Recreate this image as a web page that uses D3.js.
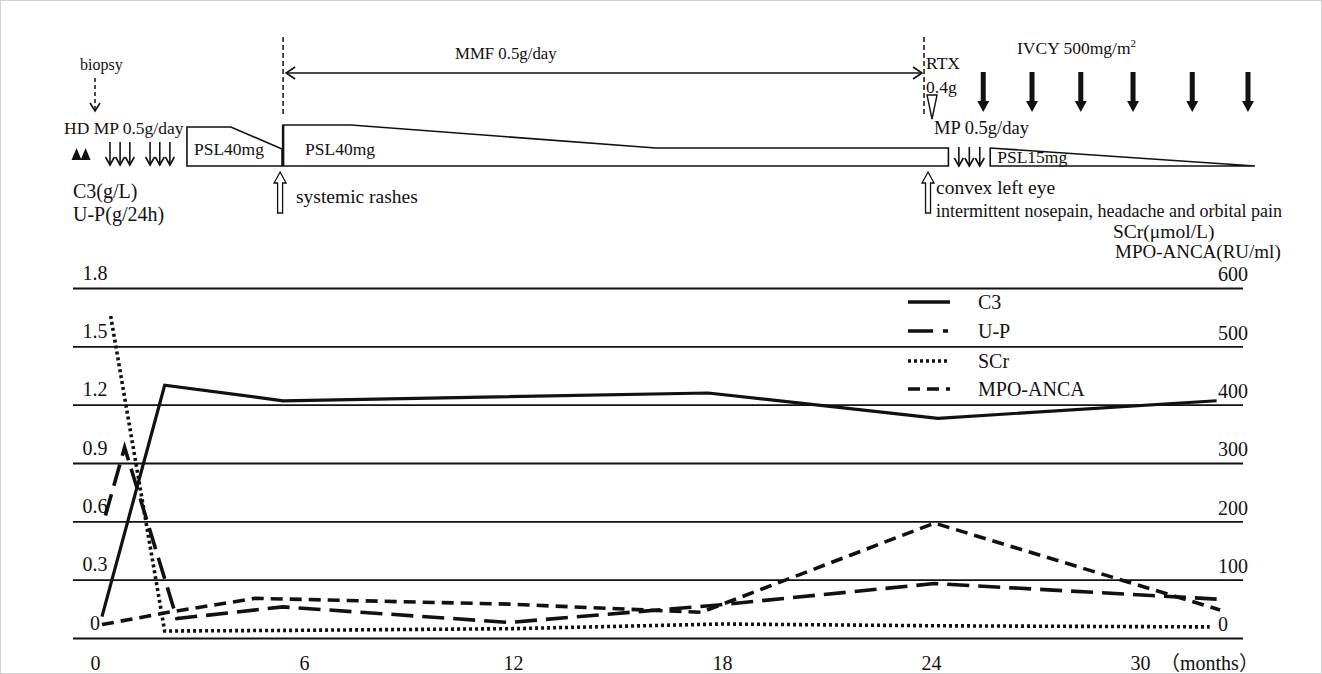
<!DOCTYPE html>
<html>
<head>
<meta charset="utf-8">
<script src="https://cdn.jsdelivr.net/npm/d3@7"></script>
<style>
  body { margin: 0; background: #fff; }
  svg text { font-family: "Liberation Serif", "Times New Roman", serif; font-size: 20px; fill: #111; }
  svg text.tl { font-size: 17.5px; }
</style>
</head>
<body>
<div id="grafiek"></div>
<script>
// Waarden (maanden / waarden)
const c3Months = [0.2, 2.0, 5.4, 17.6, 24.2, 32.2];
const c3Values = [0.11, 1.30, 1.22, 1.26, 1.13, 1.22];

const upMonths = [0.3, 0.85, 2.35, 5.4, 11.9, 17.9, 24.1, 32.2];
const upValues = [0.63, 0.98, 0.10, 0.16, 0.08, 0.17, 0.28, 0.20];

const scrMonths = [0.45, 2.0, 5.4, 12, 18, 24, 32.0];
const scrValues = [552, 12, 13, 16, 24, 21, 19];

const mpoMonths = [0.2, 2.1, 4.6, 11.9, 17.4, 24.1, 32.3];
const mpoValues = [23, 44, 68, 58, 44, 197, 48];

const leftTicks = [0, 0.3, 0.6, 0.9, 1.2, 1.5, 1.8];
const rightTicks = [0, 100, 200, 300, 400, 500, 600];
const monthTicks = [0, 6, 12, 18, 24, 30];

const legendNames = ["C3", "U-P", "SCr", "MPO-ANCA"];

// behandel-tijdlijn (maanden)
const hdMonths = [-0.53, -0.27];
const mpMonths = [0.43, 0.72, 1.0, 1.58, 1.86, 2.15];
const mp2Months = [24.8, 25.1, 25.4];
const ivcyMonths = [25.5, 26.9, 28.3, 29.8, 31.5, 33.1];
const rashMonth = 5.4;
const rtxMonth = 23.8;

const width = 1322, height = 674;

const svg = d3.select('#grafiek')
  .append('svg')
  .attr('width', width)
  .attr('height', height);

svg.append('rect')
  .attr('x', 0.5).attr('y', 0.5)
  .attr('width', width - 1).attr('height', height - 1)
  .attr('fill', 'none').attr('stroke', '#d0d0d0');

const x = d3.scaleLinear().domain([0, 30]).range([95, 1140]);
const yL = d3.scaleLinear().domain([0, 1.8]).range([638, 288]);
const yR = d3.scaleLinear().domain([0, 600]).range([638, 288]);

const gridLeft = 73, gridRight = 1243;

// Y as links met rasterlijnen
const leftAxis = svg.append('g')
  .attr('transform', `translate(${gridLeft},0)`)
  .call(d3.axisLeft(yL).tickValues(leftTicks)
    .tickSize(-(gridRight - gridLeft))
    .tickFormat(d => d3.format('')(d)));
leftAxis.select('.domain').remove();
leftAxis.selectAll('.tick line').attr('stroke', '#111').attr('stroke-width', 1.8);
leftAxis.selectAll('.tick text')
  .attr('x', 22).attr('dy', '-0.45em')
  .attr('text-anchor', 'middle')
  .style('font-size', '20px')
  .style('font-family', '"Liberation Serif", serif');

// Y as rechts
const rightAxis = svg.append('g')
  .attr('transform', `translate(${gridRight},0)`)
  .call(d3.axisRight(yR).tickValues(rightTicks).tickSize(0));
rightAxis.select('.domain').remove();
rightAxis.selectAll('.tick text')
  .attr('x', -25).attr('dy', '-0.36em')
  .attr('text-anchor', 'start')
  .style('font-size', '20px')
  .style('font-family', '"Liberation Serif", serif');

// X as
const xAxis = svg.append('g')
  .attr('transform', `translate(0,652)`)
  .call(d3.axisBottom(x).tickValues(monthTicks).tickSize(0));
xAxis.select('.domain').remove();
xAxis.selectAll('.tick text')
  .attr('dy', '0.75em')
  .style('font-size', '20px')
  .style('font-family', '"Liberation Serif", serif');

svg.append('text').attr('x', 1160).attr('y', 670).text('（months）')
  .style('font-family', '"Liberation Serif", "Noto Sans CJK SC", serif');

// as-titels
svg.append('text').attr('x', 73).attr('y', 198).text('C3(g/L)');
svg.append('text').attr('x', 73).attr('y', 221).text('U-P(g/24h)');
svg.append('text').attr('x', 1113).attr('y', 238).style('font-size', '19.5px').text('SCr(μmol/L)');
svg.append('text').attr('x', 1115).attr('y', 258).style('font-size', '19px').text('MPO-ANCA(RU/ml)');

// lijnen
const series = [
  { months: c3Months, values: c3Values, y: yL, dash: null, w: 3.2 },
  { months: upMonths, values: upValues, y: yL, dash: '22,9', w: 3.6 },
  { months: scrMonths, values: scrValues, y: yR, dash: '3,3', w: 3.6 },
  { months: mpoMonths, values: mpoValues, y: yR, dash: '12,7', w: 3.6 }
];

series.forEach(function (s) {
  const pts = s.months.map((m, i) => [m, s.values[i]]);
  svg.append('path')
    .datum(pts)
    .attr('fill', 'none')
    .attr('stroke', '#111')
    .attr('stroke-width', s.w)
    .attr('stroke-dasharray', s.dash)
    .attr('stroke-linejoin', 'miter')
    .attr('d', d3.line().x(d => x(d[0])).y(d => s.y(d[1])));
});

// legenda
const legendDash = [null, '25,10,5', '3,3', '12,7'];
const legend = svg.append('g').attr('transform', 'translate(908,302)');
legendNames.forEach(function (name, i) {
  const ly = [0, 29, 59, 87][i];
  legend.append('line')
    .attr('x1', 0).attr('x2', 42).attr('y1', ly).attr('y2', ly)
    .attr('stroke', '#111').attr('stroke-width', 3.6)
    .attr('stroke-dasharray', legendDash[i]);
  legend.append('text').attr('x', 70).attr('y', ly + 7).text(name);
});

// ---------- behandel-tijdlijn bovenaan ----------
const ann = svg.append('g').attr('stroke', '#111').attr('fill', 'none');

function tlText(tx, ty, txt, size) {
  return svg.append('text').attr('class', 'tl').attr('x', tx).attr('y', ty)
    .style('font-size', (size || 17.5) + 'px').text(txt);
}

// biopsy
tlText(x(0) - 15, 70, 'biopsy', 16);
ann.append('line').attr('x1', x(0)).attr('x2', x(0)).attr('y1', 78).attr('y2', 110)
  .attr('stroke-width', 1.5).attr('stroke-dasharray', '4,3');
ann.append('path').attr('d', `M${x(0) - 5},103 L${x(0)},111 L${x(0) + 5},103`).attr('stroke-width', 1.5);

tlText(64, 134, 'HD MP 0.5g/day');

// HD driehoeken
hdMonths.forEach(function (m) {
  const cx = x(m);
  svg.append('path').attr('d', `M${cx - 5},160 L${cx},148 L${cx + 5},160 Z`).attr('fill', '#111');
});

function thinArrow(cx, y1, y2) {
  ann.append('line').attr('x1', cx).attr('x2', cx).attr('y1', y1).attr('y2', y2).attr('stroke-width', 1.6);
  ann.append('path').attr('d', `M${cx - 4.5},${y2 - 8} L${cx},${y2} L${cx + 4.5},${y2 - 8}`).attr('stroke-width', 1.6);
}
mpMonths.forEach(m => thinArrow(x(m), 142, 165));
mp2Months.forEach(m => thinArrow(x(m), 147, 166));

// PSL blokken
ann.append('path')
  .attr('d', `M${x(2.64)},166 L${x(2.64)},127 L${x(3.9)},127 L${x(5.37)},149 L${x(5.37)},166 Z`)
  .attr('stroke-width', 1.6);
ann.append('path')
  .attr('d', `M${x(5.4)},166 L${x(5.4)},125 L${x(7.35)},125 L${x(16.1)},148 L${x(24.5)},148 L${x(24.5)},166 Z`)
  .attr('stroke-width', 1.6);
ann.append('line').attr('x1', x(5.4)).attr('x2', x(5.4)).attr('y1', 125).attr('y2', 166).attr('stroke-width', 2.5);
tlText(x(2.64) + 7, 155, 'PSL40mg');
tlText(x(5.4) + 22, 155, 'PSL40mg');

ann.append('path')
  .attr('d', `M${x(25.7)},166 L${x(25.7)},148 L${x(33.3)},166 Z`)
  .attr('stroke-width', 1.6);
tlText(x(25.7) + 7, 163, 'PSL15mg');

// stippellijnen en MMF pijl
[rashMonth, rtxMonth].forEach(function (m) {
  ann.append('line').attr('x1', x(m)).attr('x2', x(m)).attr('y1', 37).attr('y2', 114)
    .attr('stroke-width', 1.5).attr('stroke-dasharray', '5,3');
});
ann.append('line').attr('x1', x(rashMonth) + 3).attr('x2', x(rtxMonth) - 2).attr('y1', 73).attr('y2', 73).attr('stroke-width', 1.6);
ann.append('path').attr('d', `M${x(rashMonth) + 12},67 L${x(rashMonth) + 3},73 L${x(rashMonth) + 12},79`).attr('stroke-width', 1.6);
ann.append('path').attr('d', `M${x(rtxMonth) - 11},67 L${x(rtxMonth) - 2},73 L${x(rtxMonth) - 11},79`).attr('stroke-width', 1.6);
tlText(455, 59, 'MMF 0.5g/day', 16.8);

// RTX
tlText(x(rtxMonth) + 2, 69, 'RTX');
tlText(x(rtxMonth) + 2, 93, '0.4g');
ann.append('path')
  .attr('d', `M${x(rtxMonth) + 3},95 L${x(rtxMonth) + 13},95 L${x(rtxMonth) + 8},119 Z`)
  .attr('stroke-width', 1.4);
tlText(x(rtxMonth) + 10, 134, 'MP 0.5g/day', 18.5);

// IVCY
ivcyMonths.forEach(function (m) {
  const cx = x(m);
  svg.append('path')
    .attr('d', `M${cx - 2.5},72 L${cx + 2.5},72 L${cx + 2.5},101 L${cx + 6},101 L${cx},112 L${cx - 6},101 L${cx - 2.5},101 Z`)
    .attr('fill', '#111');
});
const ivcy = tlText(1017, 54, 'IVCY 500mg/m');
ivcy.append('tspan').attr('dy', -7).style('font-size', '11px').text('2');

// holle pijlen omhoog
function hollowUp(cx) {
  ann.append('path')
    .attr('d', `M${cx},172 L${cx + 6},183 L${cx + 2.5},183 L${cx + 2.5},213 L${cx - 2.5},213 L${cx - 2.5},183 L${cx - 6},183 Z`)
    .attr('fill', '#fff').attr('stroke-width', 1.3);
}
hollowUp(x(rashMonth) - 3);
hollowUp(x(rtxMonth) + 4);
tlText(296, 203, 'systemic rashes', 19.5);
tlText(936, 194, 'convex left eye', 19.5);
tlText(936, 217, 'intermittent nosepain, headache and orbital pain', 18);
</script>
</body>
</html>
